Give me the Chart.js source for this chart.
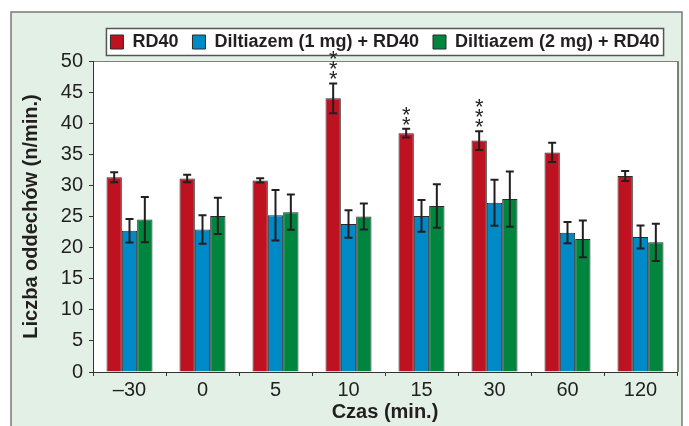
<!DOCTYPE html>
<html>
<head>
<meta charset="utf-8">
<script src="https://cdn.jsdelivr.net/npm/chart.js@4.4.0/dist/chart.umd.min.js"></script>
<style>
html,body{margin:0;padding:0;background:#fff;}
#wrap{width:689px;height:426px;position:relative;}
</style>
</head>
<body>
<div id="wrap"><canvas id="wykres"></canvas></div>
<script>
// dane
const czasy=['\u201330','0','5','10','15','30','60','120'];
const rd40=[31.3,31.1,30.8,44.0,38.4,37.2,35.3,31.5];
const rd40Err=[0.8,0.6,0.35,2.4,0.7,1.5,1.55,0.8];
const dilt1=[22.7,22.9,25.2,23.8,25.1,27.2,22.4,21.7];
const dilt1Err=[1.9,2.3,4.05,2.2,2.55,3.7,1.7,1.85];
const dilt2=[24.5,25.1,25.7,25.0,26.7,27.8,21.4,20.85];
const dilt2Err=[3.65,2.9,2.85,2.1,3.5,4.45,2.95,3.0];
const gwiazdki=[0,0,0,3,2,3,0,0];
const yMin=0, yMax=50, yKrok=5;

const czcionka='"Liberation Sans", Arial, sans-serif';
const tekst='#231f20';
const bledy=[rd40Err,dilt1Err,dilt2Err];

// tlo, ramka, pudelko legendy
const tlo={
  id:'tlo',
  beforeDraw(chart){
    const c=chart.ctx, a=chart.chartArea, lg=chart.legend;
    c.save();
    c.fillStyle='#fff';
    c.fillRect(0,0,chart.width,chart.height);
    c.fillStyle='#e2f0e6';
    c.fillRect(11,12,671,430);
    c.strokeStyle='#7a7a7a';
    c.lineWidth=1.5;
    c.strokeRect(11,12,671,430);

    const p=lg.options.labels.padding;
    const w=lg.lineWidths[0]-p;
    const cx=(lg.left+lg.right)/2;
    const cy=lg.top+p+9;
    c.fillStyle='#fff';
    c.fillRect(cx-w/2-4,cy-13.5,w+8,27);
    c.strokeStyle='#555';
    c.lineWidth=1.5;
    c.strokeRect(cx-w/2-4,cy-13.5,w+8,27);

    c.fillStyle='#fff';
    c.fillRect(a.left,a.top,a.right-a.left,a.bottom-a.top);
    c.strokeStyle='#7f7f7f';
    c.lineWidth=1;
    c.beginPath();
    c.moveTo(a.left,a.top+0.5);
    c.lineTo(a.right,a.top+0.5);
    c.stroke();
    c.lineWidth=2;
    c.beginPath();
    c.moveTo(a.right+1,a.top);
    c.lineTo(a.right+1,a.bottom);
    c.stroke();
    c.restore();
  }
};

// slupki bledow i gwiazdki
const slupki={
  id:'slupki',
  afterDatasetsDraw(chart){
    const c=chart.ctx, ys=chart.scales.y;
    c.save();
    c.strokeStyle=tekst;
    c.lineWidth=2;
    bledy.forEach((err,i)=>{
      const meta=chart.getDatasetMeta(i);
      meta.data.forEach((bar,j)=>{
        const v=chart.data.datasets[i].data[j];
        const y1=ys.getPixelForValue(v+err[j]);
        const y2=ys.getPixelForValue(v-err[j]);
        c.beginPath();
        c.moveTo(bar.x,y1); c.lineTo(bar.x,y2);
        c.moveTo(bar.x-4,y1); c.lineTo(bar.x+4,y1);
        c.moveTo(bar.x-4,y2); c.lineTo(bar.x+4,y2);
        c.stroke();
      });
    });
    c.fillStyle=tekst;
    c.font='22px '+czcionka;
    c.textAlign='center';
    c.textBaseline='alphabetic';
    const meta0=chart.getDatasetMeta(0);
    gwiazdki.forEach((n,j)=>{
      const yTop=ys.getPixelForValue(rd40[j]+rd40Err[j]);
      for(let k=0;k<n;k++){
        const sy=yTop-10-k*10;
        c.fillText('*',meta0.data[j].x,sy+12.8);
      }
    });
    c.restore();
  }
};

const ctx=document.getElementById('wykres').getContext('2d');
const wykres=new Chart(ctx,{
  type:'bar',
  data:{
    labels:czasy,
    datasets:[
      {label:'RD40',data:rd40,backgroundColor:'#be1220',borderColor:'#2a2a2a',borderWidth:1},
      {label:'Diltiazem (1 mg) + RD40',data:dilt1,backgroundColor:'#0089c7',borderColor:'#2a2a2a',borderWidth:1},
      {label:'Diltiazem (2 mg) + RD40',data:dilt2,backgroundColor:'#00853e',borderColor:'#2a2a2a',borderWidth:1}
    ]
  },
  options:{
    responsive:true,
    maintainAspectRatio:false,
    animation:false,
    layout:{padding:{top:15,right:12,left:0,bottom:0}},
    datasets:{bar:{categoryPercentage:0.63,barPercentage:1}},
    plugins:{
      legend:{
        position:'top',
        fullSize:false,
        labels:{boxWidth:13,boxHeight:14,padding:14,color:tekst,font:{family:czcionka,size:18,weight:'bold'}}
      },
      tooltip:{enabled:false}
    },
    scales:{
      x:{
        grid:{display:true,drawOnChartArea:false,drawTicks:true,tickLength:4,color:'#333',offset:true},
        border:{color:'#333',width:1},
        ticks:{color:tekst,padding:2,font:{family:czcionka,size:20}},
        title:{display:true,text:'Czas (min.)',color:tekst,font:{family:czcionka,size:20,weight:'bold'},padding:{top:0,bottom:2}},
        afterFit(s){ s.height=54; }
      },
      y:{
        min:yMin,max:yMax,
        ticks:{stepSize:yKrok,color:tekst,padding:6,font:{family:czcionka,size:20}},
        grid:{drawOnChartArea:false,drawTicks:true,tickLength:4,color:'#333'},
        border:{color:'#333',width:1},
        title:{display:true,text:'Liczba oddechów (n/min.)',color:tekst,font:{family:czcionka,size:20,weight:'bold'},padding:{top:19,bottom:0}},
        afterFit(s){ s.width=93; s.paddingTop=61; }
      }
    }
  },
  plugins:[tlo,slupki]
});
</script>
</body>
</html>
